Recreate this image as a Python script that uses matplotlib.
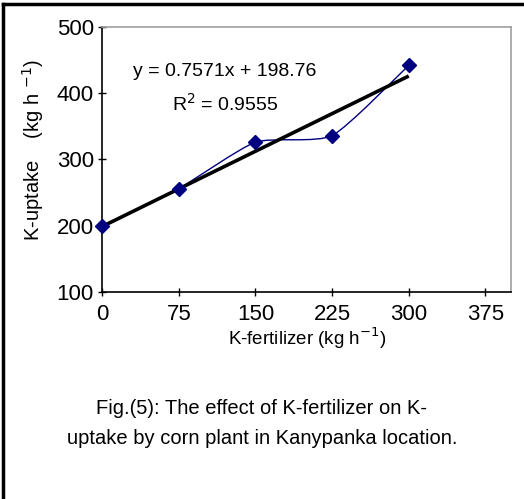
import matplotlib.pyplot as plt
from matplotlib.path import Path
import matplotlib.patches as mpatches
import matplotlib.lines as mlines

plt.rcParams['font.family'] = ['Liberation Sans', 'DejaVu Sans']

# ---- data ----
k_fert = [0, 75, 150, 225, 300]
k_uptake = [199, 256, 326, 336, 442]
slope = 0.7571
intercept = 198.76
x_ticks = [0, 75, 150, 225, 300, 375]
y_ticks = [100, 200, 300, 400, 500]

fig = plt.figure(figsize=(5.24, 4.99), dpi=100)
fig.patch.set_facecolor('white')
ax = fig.add_axes([0.195, 0.415, 0.78, 0.531])
ax.set_xlim(0, 400)
ax.set_ylim(100, 500)

# smoothed line through points (bezier)
def smooth_path(xs, ys, t=0.1):
    verts = [(xs[0], ys[0])]
    codes = [Path.MOVETO]
    n = len(xs)
    for i in range(n - 1):
        x0, y0 = (xs[i - 1], ys[i - 1]) if i > 0 else (xs[i], ys[i])
        x1, y1 = xs[i], ys[i]
        x2, y2 = xs[i + 1], ys[i + 1]
        x3, y3 = (xs[i + 2], ys[i + 2]) if i + 2 < n else (x2, y2)
        c1 = (x1 + (x2 - x0) * t, y1 + (y2 - y0) * t)
        c2 = (x2 - (x3 - x1) * t, y2 - (y3 - y1) * t)
        verts += [c1, c2, (x2, y2)]
        codes += [Path.CURVE4] * 3
    return Path(verts, codes)

ax.add_patch(mpatches.PathPatch(smooth_path(k_fert, k_uptake), fill=False,
                                edgecolor='#000080', lw=1.0, zorder=3))

# trend line
fx = [k_fert[0], k_fert[-1]]
fy = [slope * v + intercept for v in fx]
ax.plot(fx, fy, color='black', lw=2.6, zorder=4, solid_capstyle='butt')

ax.plot(k_fert, k_uptake, linestyle='none', marker='D', ms=7.5,
        color='#000080', zorder=5, clip_on=False)

ax.text(120, 432, 'y = 0.7571x + 198.76', fontsize=14, ha='center', va='center')
ax.text(120, 384, 'R$^2$ = 0.9555', fontsize=14, ha='center', va='center')

ax.set_xticks(x_ticks)
ax.set_yticks(y_ticks)
ax.tick_params(direction='inout', length=6, width=1, labelsize=16, pad=6)
ax.tick_params(axis='y', pad=3)
for s in ['left', 'bottom']:
    ax.spines[s].set_color('black')
    ax.spines[s].set_linewidth(1.2)
for s in ['top', 'right']:
    ax.spines[s].set_color('#a0a0a0')
    ax.spines[s].set_linewidth(1.2)

fig.text(0.063, 0.70, 'K-uptake    (kg h $^{-1}$)', rotation=90, fontsize=14.5,
         ha='center', va='center')
fig.text(0.586, 0.322, 'K-fertilizer (kg h$^{-1}$)', fontsize=13.5, ha='center', va='center')
fig.text(0.5, 0.182, 'Fig.(5): The effect of K-fertilizer on K-', fontsize=14.5,
         ha='center', va='center')
fig.text(0.5, 0.122, 'uptake by corn plant in Kanypanka location.', fontsize=14.5,
         ha='center', va='center')

# outer frame (top and left edges visible)
fig.add_artist(mlines.Line2D([0.006, 1.0], [0.992, 0.992], color='black', lw=2.5,
                             transform=fig.transFigure))
fig.add_artist(mlines.Line2D([0.006, 0.006], [0.0, 0.992], color='black', lw=2.5,
                             transform=fig.transFigure))

fig.savefig('out.png', dpi=100, facecolor='white')
